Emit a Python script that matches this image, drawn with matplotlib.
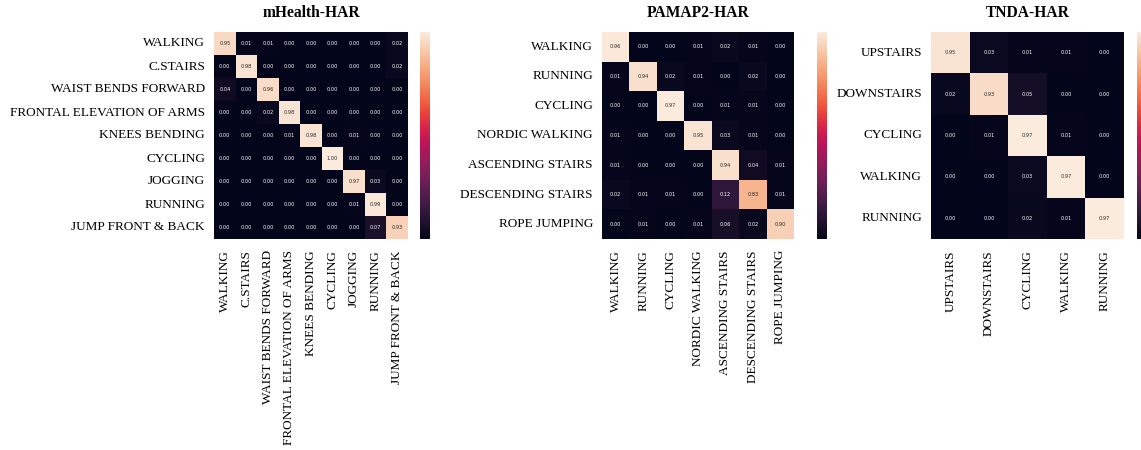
import numpy as np
import matplotlib
matplotlib.use("Agg")
import matplotlib.pyplot as plt
import seaborn as sns

# Activity labels per dataset
mhealth_labels = ["WALKING", "C.STAIRS", "WAIST BENDS FORWARD", "FRONTAL ELEVATION OF ARMS",
                  "KNEES BENDING", "CYCLING", "JOGGING", "RUNNING", "JUMP FRONT & BACK"]
pamap2_labels = ["WALKING", "RUNNING", "CYCLING", "NORDIC WALKING",
                 "ASCENDING STAIRS", "DESCENDING STAIRS", "ROPE JUMPING"]
tnda_labels = ["UPSTAIRS", "DOWNSTAIRS", "CYCLING", "WALKING", "RUNNING"]

# Normalised confusion matrices (rows: true class, cols: predicted class)
mhealth_cm = [
    [0.95, 0.01, 0.01, 0.00, 0.00, 0.00, 0.00, 0.00, 0.02],
    [0.00, 0.98, 0.00, 0.00, 0.00, 0.00, 0.00, 0.00, 0.02],
    [0.04, 0.00, 0.96, 0.00, 0.00, 0.00, 0.00, 0.00, 0.00],
    [0.00, 0.00, 0.02, 0.98, 0.00, 0.00, 0.00, 0.00, 0.00],
    [0.00, 0.00, 0.00, 0.01, 0.98, 0.00, 0.01, 0.00, 0.00],
    [0.00, 0.00, 0.00, 0.00, 0.00, 1.00, 0.00, 0.00, 0.00],
    [0.00, 0.00, 0.00, 0.00, 0.00, 0.00, 0.97, 0.03, 0.00],
    [0.00, 0.00, 0.00, 0.00, 0.00, 0.00, 0.01, 0.99, 0.00],
    [0.00, 0.00, 0.00, 0.00, 0.00, 0.00, 0.00, 0.07, 0.93],
]
pamap2_cm = [
    [0.96, 0.00, 0.00, 0.01, 0.02, 0.01, 0.00],
    [0.01, 0.94, 0.02, 0.01, 0.00, 0.02, 0.00],
    [0.00, 0.00, 0.97, 0.00, 0.01, 0.01, 0.00],
    [0.01, 0.00, 0.00, 0.95, 0.03, 0.01, 0.00],
    [0.01, 0.00, 0.00, 0.00, 0.94, 0.04, 0.01],
    [0.02, 0.01, 0.01, 0.00, 0.12, 0.83, 0.01],
    [0.00, 0.01, 0.00, 0.01, 0.06, 0.02, 0.90],
]
tnda_cm = [
    [0.95, 0.03, 0.01, 0.01, 0.00],
    [0.02, 0.93, 0.05, 0.00, 0.00],
    [0.00, 0.01, 0.97, 0.01, 0.00],
    [0.00, 0.00, 0.03, 0.97, 0.00],
    [0.00, 0.00, 0.02, 0.01, 0.97],
]

titles = ["mHealth-HAR", "PAMAP2-HAR", "TNDA-HAR"]

serif = ["Liberation Serif", "DejaVu Serif"]

W, H = 1141, 450
fig = plt.figure(figsize=(W / 100, H / 100), dpi=100)

def box(x0, y0, x1, y1):
    return [x0 / W, 1 - y1 / H, (x1 - x0) / W, (y1 - y0) / H]

panels = [
    (mhealth_cm, mhealth_labels, box(214, 32, 408, 239), box(420, 32, 430, 239)),
    (pamap2_cm, pamap2_labels, box(602, 32, 794, 239), box(817, 32, 827, 239)),
    (tnda_cm, tnda_labels, box(931, 32, 1124, 239), box(1137, 32, 1147, 239)),
]

for (cm, labels, hm_rect, cb_rect), title in zip(panels, titles):
    ax = fig.add_axes(hm_rect)
    cax = fig.add_axes(cb_rect)
    sns.heatmap(np.array(cm), ax=ax, cbar_ax=cax, cmap="rocket",
                annot=True, fmt=".2f", annot_kws={"size": 3.6},
                xticklabels=labels, yticklabels=labels)
    ax.set_title(title, fontsize=11.2, fontweight="bold", family=serif, pad=11)
    ax.tick_params(axis="both", length=0)
    ax.tick_params(axis="x", pad=8)
    ax.tick_params(axis="y", pad=6.5)
    for t in ax.get_xticklabels():
        t.set_rotation(90)
        t.set_fontfamily(serif)
        t.set_fontsize(9.5)
    for t in ax.get_yticklabels():
        t.set_rotation(0)
        t.set_fontfamily(serif)
        t.set_fontsize(9.5)
    cax.set_yticks([])
    cax.tick_params(length=0, labelsize=0)

fig.savefig("out.png", dpi=100)
